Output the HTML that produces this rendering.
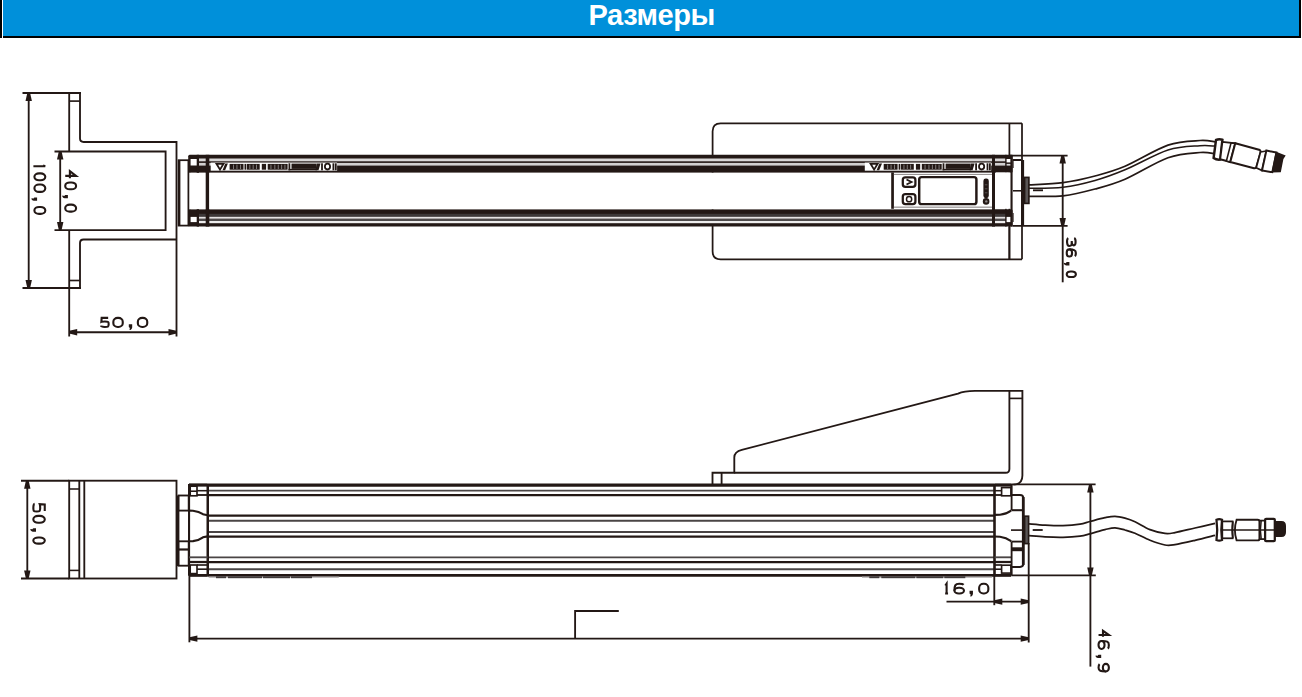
<!DOCTYPE html>
<html><head><meta charset="utf-8"><style>
html,body{margin:0;padding:0;background:#fff;width:1302px;height:697px;overflow:hidden;position:relative}
.hb{position:absolute;background:#000}
#hdr{position:absolute;left:3px;top:0;width:1296px;height:36px;background:#0090da}
#ttl{position:absolute;left:585.5px;top:-3px;white-space:nowrap;color:#fff;font-family:"Liberation Sans",sans-serif;font-weight:bold;font-size:29px;line-height:36px;letter-spacing:-0.4px}
svg{position:absolute;left:0;top:0}
</style></head><body>
<div class="hb" style="left:0;top:0;width:2px;height:38px"></div>
<div class="hb" style="left:3px;top:36px;width:1298px;height:2px"></div>
<div class="hb" style="left:1299px;top:0;width:2px;height:38px"></div>
<div id="hdr"><span id="ttl">Размеры</span></div>
<svg width="1302" height="697" viewBox="0 0 1302 697">
<path d="M1022,123.3 L720.6,123.3 Q712.6,123.3 712.6,131.3 L712.6,251.3 Q712.6,259.3 720.6,259.3 L1022,259.3" fill="#fff" stroke="#231815" stroke-width="1.75"/>
<line x1="1009.4" y1="123.3" x2="1009.4" y2="259.3" stroke="#231815" stroke-width="1.75"/>
<line x1="1022" y1="123.3" x2="1022" y2="259.3" stroke="#231815" stroke-width="1.75"/>
<line x1="22.5" y1="93" x2="81" y2="93" stroke="#231815" stroke-width="1.85"/>
<line x1="22.5" y1="288" x2="81" y2="288" stroke="#231815" stroke-width="1.85"/>
<line x1="69.2" y1="93" x2="69.2" y2="151.5" stroke="#231815" stroke-width="1.85"/>
<line x1="69.2" y1="230.1" x2="69.2" y2="336.5" stroke="#231815" stroke-width="1.85"/>
<path d="M80,93 L80,138.6 Q80,142 83.6,142 L176.5,142 L176.5,336.5" fill="none" stroke="#231815" stroke-width="1.85"/>
<path d="M80,288 L80,243 Q80,239.5 83.6,239.5 L176.5,239.5" fill="none" stroke="#231815" stroke-width="1.85"/>
<line x1="69.2" y1="101.1" x2="80" y2="101.1" stroke="#231815" stroke-width="1.65"/>
<line x1="69.2" y1="280.5" x2="80" y2="280.5" stroke="#231815" stroke-width="1.65"/>
<path d="M54.5,151.5 L165.6,151.5 L165.6,230.1 L54.5,230.1" fill="none" stroke="#231815" stroke-width="1.85"/>
<line x1="28.7" y1="93" x2="28.7" y2="288" stroke="#231815" stroke-width="1.85"/>
<polygon points="27.3,93 30.1,93 31.9,101 25.5,101" fill="#231815"/>
<polygon points="27.3,288 30.1,288 31.9,280 25.5,280" fill="#231815"/>
<line x1="60.2" y1="151.5" x2="60.2" y2="230.1" stroke="#231815" stroke-width="1.85"/>
<polygon points="58.8,151.5 61.6,151.5 63.4,159.5 57,159.5" fill="#231815"/>
<polygon points="58.8,230.1 61.6,230.1 63.4,222.1 57,222.1" fill="#231815"/>
<line x1="69.2" y1="332.2" x2="176.5" y2="332.2" stroke="#231815" stroke-width="1.85"/>
<polygon points="69.2,330.8 69.2,333.6 77.2,335.4 77.2,329" fill="#231815"/>
<polygon points="176.5,330.8 176.5,333.6 168.5,335.4 168.5,329" fill="#231815"/>
<rect x="178.6" y="160.2" width="9.8" height="65.4" fill="#fff" stroke="#231815" stroke-width="1.75"/>
<rect x="178.2" y="160" width="2.2" height="65.8" fill="#231815"/>
<rect x="188.2" y="154.8" width="824.4" height="18" fill="#231815" rx="1.5"/>
<rect x="188.2" y="209.2" width="824.4" height="17.4" fill="#231815" rx="1.5"/>
<rect x="199" y="158.5" width="807" height="2.8" fill="#d9d7d7"/>
<rect x="199" y="162.9" width="807" height="2.7" fill="#d2d0d0"/>
<rect x="199" y="213.8" width="807" height="3" fill="#3d3838"/>
<rect x="199" y="216.8" width="807" height="2" fill="#e6e4e4"/>
<rect x="199" y="218.8" width="807" height="2.2" fill="#4f4b4b"/>
<rect x="199" y="221" width="807" height="2.2" fill="#eeeded"/>
<rect x="190.6" y="172.8" width="15.1" height="36.4" fill="#fff"/>
<rect x="196.7" y="154.8" width="2.3" height="18" fill="#231815"/>
<rect x="196.7" y="209.2" width="2.3" height="17.4" fill="#231815"/>
<rect x="205.7" y="154.8" width="3.6" height="71.8" fill="#231815"/>
<rect x="190.6" y="159" width="6.1" height="6.5" fill="#fff"/>
<rect x="190.6" y="216.9" width="6.1" height="5.2" fill="#fff"/>
<rect x="992" y="154.8" width="3" height="71.8" fill="#231815"/>
<rect x="1005.2" y="154.8" width="1.4" height="71.8" fill="#231815"/>
<rect x="995.8" y="172.4" width="14.5" height="36.4" fill="#fff"/>
<rect x="1006.6" y="159" width="4" height="3.4" fill="#fff"/>
<rect x="1006.6" y="163.9" width="4" height="1.7" fill="#d8d6d6"/>
<rect x="1006.6" y="216.9" width="4" height="5.2" fill="#fff"/>
<rect x="1010.6" y="154.8" width="2" height="71.8" fill="#231815"/>
<rect x="1012.6" y="161" width="1" height="7" fill="#231815"/>
<rect x="1012.6" y="213" width="1" height="9" fill="#231815"/>
<rect x="209.3" y="172.8" width="782.7" height="36.4" fill="#fff"/>
<rect x="210.7" y="162.6" width="126.4" height="8.1" fill="#fff"/>
<polygon points="216.5,163.8 223.5,163.8 220,169.6" fill="#fff" stroke="#231815" stroke-width="1.8"/>
<path d="M225.3,163.4 H227.9 L225.1,170.2 H222.5 Z" fill="#231815"/>
<rect x="229.6" y="163.9" width="13.9" height="5.8" fill="#231815"/>
<rect x="244.5" y="163.9" width="1.7" height="5.8" fill="#231815"/>
<rect x="246.8" y="163.9" width="12.9" height="5.8" fill="#231815"/>
<rect x="261.8" y="163.9" width="4.3" height="5.8" fill="#231815"/>
<rect x="267.7" y="163.9" width="19.9" height="5.8" fill="#231815"/>
<rect x="233.1" y="164.6" width="0.9" height="4.4" fill="#8a8585"/>
<rect x="236.5" y="164.6" width="0.9" height="4.4" fill="#8a8585"/>
<rect x="240" y="164.6" width="0.9" height="4.4" fill="#8a8585"/>
<rect x="249.4" y="164.6" width="0.9" height="4.4" fill="#8a8585"/>
<rect x="252.7" y="164.6" width="0.9" height="4.4" fill="#8a8585"/>
<rect x="256.1" y="164.6" width="0.9" height="4.4" fill="#8a8585"/>
<rect x="270.5" y="164.6" width="0.9" height="4.4" fill="#8a8585"/>
<rect x="274.4" y="164.6" width="0.9" height="4.4" fill="#8a8585"/>
<rect x="277.8" y="164.6" width="0.9" height="4.4" fill="#8a8585"/>
<rect x="281.2" y="164.6" width="0.9" height="4.4" fill="#8a8585"/>
<rect x="284.5" y="164.6" width="0.9" height="4.4" fill="#8a8585"/>
<rect x="288.5" y="163.3" width="1.8" height="7" fill="#231815"/>
<rect x="288.5" y="168.9" width="28.4" height="1.4" fill="#231815"/>
<rect x="291.5" y="163.6" width="25" height="5.3" fill="#231815"/>
<path d="M316.7,163.5 H320.5 L318.5,170.2 H315.5 Z" fill="#231815"/>
<rect x="321.1" y="163.3" width="1.8" height="7" fill="#231815"/>
<ellipse cx="327.5" cy="166.6" rx="2.6" ry="2.9" fill="#fff" stroke="#231815" stroke-width="1.8"/>
<rect x="332.5" y="163.3" width="1.8" height="7" fill="#231815"/>
<rect x="334.9" y="163.3" width="1.8" height="7" fill="#231815"/>
<rect x="864.8" y="162.6" width="126.4" height="8.1" fill="#fff"/>
<polygon points="870.6,163.8 877.6,163.8 874.1,169.6" fill="#fff" stroke="#231815" stroke-width="1.8"/>
<path d="M879.4,163.4 H882 L879.2,170.2 H876.6 Z" fill="#231815"/>
<rect x="883.7" y="163.9" width="13.9" height="5.8" fill="#231815"/>
<rect x="898.6" y="163.9" width="1.7" height="5.8" fill="#231815"/>
<rect x="900.9" y="163.9" width="12.9" height="5.8" fill="#231815"/>
<rect x="915.9" y="163.9" width="4.3" height="5.8" fill="#231815"/>
<rect x="921.8" y="163.9" width="19.9" height="5.8" fill="#231815"/>
<rect x="887.2" y="164.6" width="0.9" height="4.4" fill="#8a8585"/>
<rect x="890.6" y="164.6" width="0.9" height="4.4" fill="#8a8585"/>
<rect x="894.1" y="164.6" width="0.9" height="4.4" fill="#8a8585"/>
<rect x="903.5" y="164.6" width="0.9" height="4.4" fill="#8a8585"/>
<rect x="906.8" y="164.6" width="0.9" height="4.4" fill="#8a8585"/>
<rect x="910.2" y="164.6" width="0.9" height="4.4" fill="#8a8585"/>
<rect x="924.6" y="164.6" width="0.9" height="4.4" fill="#8a8585"/>
<rect x="928.5" y="164.6" width="0.9" height="4.4" fill="#8a8585"/>
<rect x="931.9" y="164.6" width="0.9" height="4.4" fill="#8a8585"/>
<rect x="935.3" y="164.6" width="0.9" height="4.4" fill="#8a8585"/>
<rect x="938.6" y="164.6" width="0.9" height="4.4" fill="#8a8585"/>
<rect x="942.6" y="163.3" width="1.8" height="7" fill="#231815"/>
<rect x="942.6" y="168.9" width="28.4" height="1.4" fill="#231815"/>
<rect x="945.6" y="163.6" width="25" height="5.3" fill="#231815"/>
<path d="M970.8,163.5 H974.6 L972.6,170.2 H969.6 Z" fill="#231815"/>
<rect x="975.2" y="163.3" width="1.8" height="7" fill="#231815"/>
<ellipse cx="981.6" cy="166.6" rx="2.6" ry="2.9" fill="#fff" stroke="#231815" stroke-width="1.8"/>
<rect x="986.6" y="163.3" width="1.8" height="7" fill="#231815"/>
<rect x="989" y="163.3" width="1.8" height="7" fill="#231815"/>
<rect x="891.2" y="172.4" width="2.7" height="36.4" fill="#231815"/>
<rect x="902.8" y="177.4" width="12.6" height="9.4" fill="#fff" stroke="#231815" stroke-width="2.25" rx="2.6"/>
<rect x="902.8" y="194.2" width="12.6" height="10" fill="#fff" stroke="#231815" stroke-width="2.25" rx="2.6"/>
<path d="M906.5,179.5 L911.5,182 L906.5,184.5" fill="none" stroke="#231815" stroke-width="1.85"/>
<circle cx="909.1" cy="199.2" r="2.6" fill="none" stroke="#231815" stroke-width="1.5"/>
<rect x="919.2" y="177.1" width="57.2" height="27" fill="#fff" stroke="#231815" stroke-width="2.45" rx="2.4"/>
<rect x="893.9" y="173.9" width="98.1" height="1" fill="#8c8787"/>
<rect x="893.9" y="206.6" width="98.1" height="1.1" fill="#8c8787"/>
<rect x="983.4" y="178.6" width="5.4" height="19.6" fill="#231815" rx="2.4"/>
<rect x="984.8" y="184.5" width="2.6" height="0.7" fill="#6d6868"/>
<rect x="984.8" y="188.5" width="2.6" height="0.7" fill="#6d6868"/>
<rect x="984.8" y="192.5" width="2.6" height="0.7" fill="#6d6868"/>
<circle cx="986.1" cy="201.4" r="3.3" fill="#231815"/>
<circle cx="986.3" cy="201.4" r="1.2" fill="#8a8585"/>
<rect x="1012.6" y="159" width="8.6" height="2" fill="#231815"/>
<rect x="1021" y="160" width="3.1" height="65.4" fill="#231815"/>
<line x1="1012.6" y1="225.9" x2="1067.6" y2="225.9" stroke="#231815" stroke-width="1.85"/>
<line x1="1013" y1="190.8" x2="1021" y2="190.8" stroke="#231815" stroke-width="1.55"/>
<rect x="1024.6" y="177.4" width="4.3" height="26" fill="#5a5555" stroke="#231815" stroke-width="1.65"/>
<line x1="1009.4" y1="226.6" x2="1009.4" y2="259.3" stroke="#231815" stroke-width="1.75"/>
<line x1="1009.4" y1="155.6" x2="1067.6" y2="155.6" stroke="#231815" stroke-width="1.85"/>
<line x1="1062.7" y1="155.6" x2="1062.7" y2="282.3" stroke="#231815" stroke-width="1.85"/>
<polygon points="1061.3,155.6 1064.1,155.6 1065.9,163.6 1059.5,163.6" fill="#231815"/>
<polygon points="1061.3,225.9 1064.1,225.9 1065.9,217.9 1059.5,217.9" fill="#231815"/>
<path d="M1029,184.9 C1034.67,184.53 1052,184.18 1063,182.7 C1074,181.22 1084.67,178.73 1095,176 C1105.33,173.27 1112.83,171.43 1125,166.3 C1137.17,161.17 1155.5,149.5 1168,145.2 C1180.5,140.9 1192.17,141.07 1200,140.5 C1207.83,139.93 1212.5,141.58 1215,141.8" fill="none" stroke="#231815" stroke-width="1.75"/>
<path d="M1029,188.3 C1034.67,188.12 1052,188.5 1063,187.2 C1074,185.9 1084.67,183.4 1095,180.5 C1105.33,177.6 1112.83,174.88 1125,169.8 C1137.17,164.72 1155.5,154.02 1168,150 C1180.5,145.98 1192.17,146.35 1200,145.7 C1207.83,145.05 1212.5,146.03 1215,146.1" fill="none" stroke="#231815" stroke-width="1.55"/>
<path d="M1029,196.3 C1034.67,196.22 1052,197.02 1063,195.8 C1074,194.58 1084.67,191.77 1095,189 C1105.33,186.23 1112.83,184.42 1125,179.2 C1137.17,173.98 1155.5,162.15 1168,157.7 C1180.5,153.25 1192.17,153.15 1200,152.5 C1207.83,151.85 1212.5,153.58 1215,153.8" fill="none" stroke="#231815" stroke-width="1.75"/>
<line x1="1033" y1="190.3" x2="1043" y2="190.3" stroke="#231815" stroke-width="1.85"/>
<path d="M1216,140 Q1219,138.8 1222.4,139.8 L1220.2,159.6 Q1216.5,160 1213.6,158 Z" fill="#fff" stroke="#231815" stroke-width="2.45"/>
<path d="M1222.4,141.8 L1235.3,143.3 L1230.3,162 L1220.2,159.2 Z" fill="#fff" stroke="#231815" stroke-width="1.85"/>
<path d="M1231,143 L1235,143.5 L1230,162 L1226.4,161 Z" fill="#fff" stroke="#231815" stroke-width="1.55"/>
<path d="M1235.3,143.3 L1259.8,150 Q1261,151 1260.5,152.5 L1256.2,167.5 Q1255.2,168.6 1254,168.2 L1230.3,162 Z" fill="#fff" stroke="#231815" stroke-width="1.95"/>
<path d="M1260.5,152 L1266.4,151 L1262,170.5 L1256.2,167.8 Z" fill="#fff" stroke="#231815" stroke-width="1.75"/>
<path d="M1266.4,150.5 L1276.5,152.6 L1272.3,172.2 L1262,170.5 Z" fill="#fff" stroke="#231815" stroke-width="1.95"/>
<path d="M1275.6,151.6 L1285.7,155.6 L1283.4,159 L1280.8,172.2 L1271.6,172.6 Z" fill="#231815"/>
<path d="M712.5,484.6 L712.5,472.7 L734.3,472.7 L734.3,457.5 Q734.3,451.8 741.8,449.9 L958,393.6 Q964,390.9 975,390.9 L1022.4,390.9 L1022.4,475.6 Q1022.4,484.6 1013.4,484.6" fill="#fff" stroke="#231815" stroke-width="1.85"/>
<path d="M734.3,472.7 L1005.6,472.7 Q1009.4,472.7 1009.4,468.9 L1009.4,390.9" fill="none" stroke="#231815" stroke-width="1.85"/>
<line x1="721.6" y1="472.7" x2="721.6" y2="484.6" stroke="#231815" stroke-width="1.85"/>
<line x1="1009.4" y1="398.4" x2="1022.4" y2="398.4" stroke="#231815" stroke-width="1.65"/>
<rect x="69.2" y="480.7" width="107.3" height="97.8" fill="#fff" stroke="#231815" stroke-width="1.85"/>
<line x1="79.3" y1="480.7" x2="79.3" y2="578.5" stroke="#231815" stroke-width="1.85"/>
<line x1="84.3" y1="480.7" x2="84.3" y2="578.5" stroke="#231815" stroke-width="1.85"/>
<line x1="69.2" y1="489" x2="79.3" y2="489" stroke="#231815" stroke-width="1.55"/>
<line x1="69.2" y1="570.4" x2="79.3" y2="570.4" stroke="#231815" stroke-width="1.55"/>
<line x1="21" y1="480.7" x2="69.2" y2="480.7" stroke="#231815" stroke-width="1.85"/>
<line x1="21" y1="578.5" x2="69.2" y2="578.5" stroke="#231815" stroke-width="1.85"/>
<line x1="27.3" y1="480.7" x2="27.3" y2="578.5" stroke="#231815" stroke-width="1.85"/>
<polygon points="25.9,480.7 28.7,480.7 30.5,488.7 24.1,488.7" fill="#231815"/>
<polygon points="25.9,578.5 28.7,578.5 30.5,570.5 24.1,570.5" fill="#231815"/>
<rect x="177" y="495.5" width="2.4" height="70.5" fill="#231815"/>
<rect x="178.6" y="495.5" width="10.1" height="15.1" fill="#fff" stroke="#231815" stroke-width="1.85"/>
<rect x="178.6" y="541.3" width="10.1" height="24.4" fill="#fff" stroke="#231815" stroke-width="1.85"/>
<rect x="178.2" y="548.4" width="10.6" height="2.2" fill="#231815"/>
<line x1="207.7" y1="485" x2="994.5" y2="485" stroke="#231815" stroke-width="3.25"/>
<line x1="207.7" y1="490.7" x2="994.5" y2="490.7" stroke="#4a4545" stroke-width="1.75"/>
<line x1="207.7" y1="495" x2="994.5" y2="495" stroke="#231815" stroke-width="2.25"/>
<line x1="207.7" y1="515.7" x2="994.5" y2="515.7" stroke="#231815" stroke-width="2.25"/>
<line x1="207.7" y1="520.7" x2="994.5" y2="520.7" stroke="#4a4545" stroke-width="1.85"/>
<line x1="207.7" y1="532" x2="994.5" y2="532" stroke="#4a4545" stroke-width="1.95"/>
<line x1="207.7" y1="536.7" x2="994.5" y2="536.7" stroke="#231815" stroke-width="2.25"/>
<line x1="207.7" y1="557.3" x2="994.5" y2="557.3" stroke="#4a4545" stroke-width="1.85"/>
<line x1="207.7" y1="562" x2="994.5" y2="562" stroke="#231815" stroke-width="2.25"/>
<line x1="207.7" y1="569.2" x2="994.5" y2="569.2" stroke="#4a4545" stroke-width="2.05"/>
<line x1="207.7" y1="575.4" x2="994.5" y2="575.4" stroke="#231815" stroke-width="2.85"/>
<rect x="188" y="484" width="2.1" height="91.8" fill="#231815"/>
<rect x="206.5" y="484" width="2.5" height="91.8" fill="#231815"/>
<rect x="993.2" y="484" width="2.6" height="91.8" fill="#231815"/>
<rect x="1010.4" y="484" width="2.2" height="12" fill="#231815"/>
<rect x="1010.4" y="564.5" width="2.2" height="11.3" fill="#231815"/>
<line x1="189" y1="557.3" x2="207.7" y2="557.3" stroke="#4a4545" stroke-width="1.85"/>
<line x1="189" y1="562" x2="207.7" y2="562" stroke="#231815" stroke-width="2.25"/>
<line x1="189" y1="485" x2="207.7" y2="485" stroke="#231815" stroke-width="3.25"/>
<line x1="189" y1="575.4" x2="207.7" y2="575.4" stroke="#231815" stroke-width="2.85"/>
<rect x="190.2" y="486.2" width="6.8" height="9.6" fill="#fff" stroke="#231815" stroke-width="1.65"/>
<line x1="190.2" y1="491.2" x2="197" y2="491.2" stroke="#231815" stroke-width="1.55"/>
<line x1="197" y1="490.7" x2="207" y2="490.7" stroke="#231815" stroke-width="1.55"/>
<line x1="197" y1="495" x2="207" y2="495" stroke="#231815" stroke-width="1.85"/>
<rect x="190.2" y="565" width="6.8" height="8.6" fill="#fff" stroke="#231815" stroke-width="1.65"/>
<line x1="197" y1="569.2" x2="207" y2="569.2" stroke="#231815" stroke-width="1.65"/>
<line x1="197" y1="565" x2="207" y2="565" stroke="#231815" stroke-width="1.65"/>
<path d="M189,510.6 L193,510.8 Q199,511.6 203,514.2 L207.7,515.2" fill="none" stroke="#231815" stroke-width="2.15"/>
<path d="M189,541.3 L193,541.1 Q199,540.3 203,537.3 L207.7,536.4" fill="none" stroke="#231815" stroke-width="2.15"/>
<line x1="994.5" y1="557.3" x2="1011.6" y2="557.3" stroke="#4a4545" stroke-width="1.85"/>
<line x1="994.5" y1="562" x2="1011.6" y2="562" stroke="#231815" stroke-width="2.25"/>
<line x1="994.5" y1="485" x2="1011.3" y2="485" stroke="#231815" stroke-width="3.25"/>
<line x1="994.5" y1="575.4" x2="1011.3" y2="575.4" stroke="#231815" stroke-width="2.85"/>
<rect x="1001.6" y="487.6" width="9.3" height="8.2" fill="#fff" stroke="#231815" stroke-width="1.65"/>
<rect x="1001.6" y="565.2" width="9.3" height="7.9" fill="#fff" stroke="#231815" stroke-width="1.65"/>
<line x1="994.5" y1="490.7" x2="1001.6" y2="490.7" stroke="#231815" stroke-width="1.55"/>
<line x1="994.5" y1="495" x2="1001.6" y2="495" stroke="#231815" stroke-width="1.85"/>
<line x1="994.5" y1="569.2" x2="1001.6" y2="569.2" stroke="#231815" stroke-width="1.55"/>
<line x1="994.5" y1="565" x2="1001.6" y2="565" stroke="#231815" stroke-width="1.65"/>
<path d="M994.5,514.9 L1000,514.7 Q1006,514.2 1011.6,510.3" fill="none" stroke="#231815" stroke-width="2.15"/>
<path d="M994.5,536.5 L1000,536.7 Q1006,537.4 1011.6,541.4" fill="none" stroke="#231815" stroke-width="2.15"/>
<path d="M1011.6,495 L1020,495 Q1023.4,495 1023.4,498.4 L1023.4,563.6 Q1023.4,567 1020,567 L1011.6,567" fill="#fff" stroke="#231815" stroke-width="1.85"/>
<rect x="1021.9" y="497" width="2.7" height="68" fill="#231815"/>
<line x1="1011.6" y1="495" x2="1011.6" y2="510.2" stroke="#231815" stroke-width="1.85"/>
<line x1="1011.6" y1="510.2" x2="1023" y2="510.2" stroke="#231815" stroke-width="2.05"/>
<line x1="1011.6" y1="541.6" x2="1011.6" y2="567" stroke="#231815" stroke-width="1.85"/>
<line x1="1011.6" y1="541.6" x2="1023" y2="541.6" stroke="#231815" stroke-width="1.85"/>
<rect x="1011.6" y="547.3" width="11.4" height="3.9" fill="#231815"/>
<rect x="1024.6" y="516.2" width="4" height="27.4" fill="#5a5555" stroke="#231815" stroke-width="1.65"/>
<line x1="1011" y1="530.1" x2="1024.6" y2="530.1" stroke="#231815" stroke-width="1.65"/>
<rect x="208.7" y="576.4" width="130.1" height="1.2" fill="#9a9696"/>
<rect x="216" y="576.3" width="10" height="1.9" fill="#3f3a3a"/>
<rect x="228" y="576.3" width="34" height="1.9" fill="#3f3a3a"/>
<rect x="263" y="576.3" width="27" height="1.9" fill="#3f3a3a"/>
<rect x="291" y="576.3" width="21" height="1.9" fill="#3f3a3a"/>
<rect x="862" y="576.4" width="130.1" height="1.2" fill="#9a9696"/>
<rect x="869.3" y="576.3" width="10" height="1.9" fill="#3f3a3a"/>
<rect x="881.3" y="576.3" width="34" height="1.9" fill="#3f3a3a"/>
<rect x="916.3" y="576.3" width="27" height="1.9" fill="#3f3a3a"/>
<rect x="944.3" y="576.3" width="21" height="1.9" fill="#3f3a3a"/>
<path d="M1029,523.8 C1031.67,524.02 1039.33,524.8 1045,525.1 C1050.67,525.4 1057.17,525.75 1063,525.6 C1068.83,525.45 1075.5,524.88 1080,524.2 C1084.5,523.52 1085.83,522.58 1090,521.5 C1094.17,520.42 1100.83,518.57 1105,517.7 C1109.17,516.83 1111.67,516.22 1115,516.3 C1118.33,516.38 1121.67,517.28 1125,518.2 C1128.33,519.12 1130.83,519.9 1135,521.8 C1139.17,523.7 1145,527.67 1150,529.6 C1155,531.53 1160.83,532.9 1165,533.4 C1169.17,533.9 1170,533.5 1175,532.6 C1180,531.7 1188.33,529.53 1195,528 C1201.67,526.47 1211.67,524.17 1215,523.4" fill="none" stroke="#231815" stroke-width="1.75"/>
<path d="M1029,535.7 C1031.67,535.9 1039.33,536.63 1045,536.9 C1050.67,537.17 1057.17,537.43 1063,537.3 C1068.83,537.17 1075.5,536.68 1080,536.1 C1084.5,535.52 1085.83,534.88 1090,533.8 C1094.17,532.72 1100.83,530.6 1105,529.6 C1109.17,528.6 1111.67,527.73 1115,527.8 C1118.33,527.87 1121.67,529.1 1125,530 C1128.33,530.9 1130.83,531.48 1135,533.2 C1139.17,534.92 1145,538.33 1150,540.3 C1155,542.27 1160.83,544.28 1165,545 C1169.17,545.72 1170,545.38 1175,544.6 C1180,543.82 1188.33,541.85 1195,540.3 C1201.67,538.75 1211.67,536.13 1215,535.3" fill="none" stroke="#231815" stroke-width="1.75"/>
<line x1="1032.7" y1="530" x2="1042.7" y2="530" stroke="#231815" stroke-width="1.85"/>
<path d="M1216.5,519.8 Q1219.2,518.6 1222,519.8 Q1220.6,530 1222,540 Q1219.2,541.2 1216.5,540 Q1217.9,530 1216.5,519.8 Z" fill="#fff" stroke="#231815" stroke-width="2.25"/>
<rect x="1222.3" y="521.4" width="10.3" height="16.9" fill="#fff" stroke="#231815" stroke-width="1.75"/>
<path d="M1236.6,519.7 L1257.6,519.7 Q1259.6,519.7 1259.6,521.7 L1259.6,538.4 Q1259.6,540.4 1257.6,540.4 L1236.6,540.4 Q1233.2,530 1236.6,519.7 Z" fill="#fff" stroke="#231815" stroke-width="1.85"/>
<path d="M1233,521.4 Q1231.2,530 1233,538.3" fill="none" stroke="#231815" stroke-width="1.55"/>
<rect x="1259.6" y="520.6" width="5.5" height="18.5" fill="#fff" stroke="#231815" stroke-width="1.75"/>
<path d="M1261.2,520.6 Q1259.6,530 1261.2,539" fill="none" stroke="#231815" stroke-width="1.45"/>
<rect x="1265.1" y="518.8" width="9.7" height="22.4" fill="#fff" stroke="#231815" stroke-width="2.25" rx="1"/>
<path d="M1274.6,521 L1281.5,521 Q1286,521 1286,526 L1286,532 Q1286,537 1281.5,537 L1274.6,537 Z" fill="#231815"/>
<line x1="1222" y1="530" x2="1274.8" y2="530" stroke="#231815" stroke-width="1.65"/>
<line x1="1011.3" y1="484.4" x2="1095.6" y2="484.4" stroke="#231815" stroke-width="1.85"/>
<line x1="1012" y1="575.4" x2="1095.8" y2="575.4" stroke="#231815" stroke-width="1.85"/>
<line x1="1090.4" y1="484.4" x2="1090.4" y2="666.6" stroke="#231815" stroke-width="1.85"/>
<polygon points="1089,484.4 1091.8,484.4 1093.6,492.4 1087.2,492.4" fill="#231815"/>
<polygon points="1089,575.4 1091.8,575.4 1093.6,567.4 1087.2,567.4" fill="#231815"/>
<line x1="994.3" y1="575.4" x2="994.3" y2="605.2" stroke="#231815" stroke-width="1.85"/>
<line x1="1028.7" y1="543" x2="1028.7" y2="642.5" stroke="#231815" stroke-width="1.85"/>
<line x1="946.5" y1="601.6" x2="1028.7" y2="601.6" stroke="#231815" stroke-width="1.85"/>
<polygon points="994.3,600.2 994.3,603 1002.3,604.8 1002.3,598.4" fill="#231815"/>
<polygon points="1028.7,600.2 1028.7,603 1020.7,604.8 1020.7,598.4" fill="#231815"/>
<line x1="189.4" y1="575.4" x2="189.4" y2="642.3" stroke="#231815" stroke-width="1.85"/>
<line x1="189.4" y1="638.6" x2="1028.7" y2="638.6" stroke="#231815" stroke-width="1.85"/>
<polygon points="189.4,637.2 189.4,640 197.4,641.8 197.4,635.4" fill="#231815"/>
<polygon points="1028.7,637.2 1028.7,640 1020.7,641.8 1020.7,635.4" fill="#231815"/>
<path d="M618.8,611 L575.1,611 L575.1,638.6" fill="none" stroke="#231815" stroke-width="1.85"/>
<g transform="translate(0 316.8)"><path d="M108.15,1.05 H101.65 L101.35,5.09 C102.35,4.69 103.8,4.69 104.8,4.69 C108.65,4.69 108.65,5.19 108.65,7.42 C108.65,10.15 107.95,10.15 104.8,10.15 C102.15,10.15 101.15,9.85 100.95,8.85" fill="none" stroke="#231815" stroke-width="2.1"/><rect x="113.35" y="1.05" width="9.4" height="9.1" rx="4.32" ry="3.82" fill="none" stroke="#231815" stroke-width="2.1"/><path d="M128.8,7.5 H132.2 V10.8 Q131.9,12.6 130.5,13.1 H129.5 L129.9,10.9 Q128.8,10.8 128.8,10 Z" fill="#231815"/><rect x="137.85" y="1.05" width="9.4" height="9.1" rx="4.32" ry="3.82" fill="none" stroke="#231815" stroke-width="2.1"/></g>
<g transform="translate(0 582.7)"><path d="M946.6,10.75 V1.05 L945.35,2.99 M945.15,10.75 H948.05" fill="none" stroke="#231815" stroke-width="2.1"/><path d="M963.65,2.02 C962.75,1.05 960.7,1.05 959.2,1.05 C955.05,1.05 954.45,2.99 954.45,7.94 " fill="none" stroke="#231815" stroke-width="2.1"/><rect x="954.45" y="5.12" width="9.5" height="5.63" rx="4.28" ry="2.7" fill="none" stroke="#231815" stroke-width="2.1"/><path d="M969.55,8.1 H972.95 V11.4 Q972.65,13.2 971.25,13.7 H970.25 L970.65,11.5 Q969.55,11.4 969.55,10.6 Z" fill="#231815"/><rect x="979.15" y="1.05" width="9.2" height="9.7" rx="4.23" ry="4.07" fill="none" stroke="#231815" stroke-width="2.1"/></g>
<g transform="translate(46.3 0) rotate(90)"><path d="M166.3,11.85 V1.05 L165.55,3.21 M165.35,11.85 H167.25" fill="none" stroke="#231815" stroke-width="2.1"/><rect x="173.35" y="1.05" width="6.9" height="10.8" rx="3.17" ry="4.54" fill="none" stroke="#231815" stroke-width="2.1"/><rect x="184.55" y="1.05" width="7.3" height="10.8" rx="3.36" ry="4.54" fill="none" stroke="#231815" stroke-width="2.1"/><path d="M197.45,9.2 H200.85 V12.5 Q200.55,14.3 199.15,14.8 H198.15 L198.55,12.6 Q197.45,12.5 197.45,11.7 Z" fill="#231815"/><rect x="206.95" y="1.05" width="6.9" height="10.8" rx="3.17" ry="4.54" fill="none" stroke="#231815" stroke-width="2.1"/></g>
<g transform="translate(77.1 0) rotate(90)"><path d="M175.91,11.85 V1.05 L171.15,7.21 H178.15" fill="none" stroke="#231815" stroke-width="2.1"/><rect x="182.55" y="1.05" width="6.7" height="10.8" rx="3.08" ry="4.54" fill="none" stroke="#231815" stroke-width="2.1"/><path d="M194.9,9.2 H198.3 V12.5 Q198,14.3 196.6,14.8 H195.6 L196,12.6 Q194.9,12.5 194.9,11.7 Z" fill="#231815"/><rect x="204.65" y="1.05" width="7" height="10.8" rx="3.22" ry="4.54" fill="none" stroke="#231815" stroke-width="2.1"/></g>
<g transform="translate(45.8 0) rotate(90)"><path d="M511.05,1.05 H504.55 L504.25,6.01 C505.25,5.61 506.7,5.61 507.7,5.61 C511.55,5.61 511.55,6.11 511.55,9.03 C511.55,12.45 510.85,12.45 507.7,12.45 C505.05,12.45 504.05,12.15 503.85,11.15" fill="none" stroke="#231815" stroke-width="2.1"/><rect x="515.85" y="1.05" width="6.9" height="11.4" rx="3.17" ry="4.79" fill="none" stroke="#231815" stroke-width="2.1"/><path d="M528.25,9.8 H531.65 V13.1 Q531.35,14.9 529.95,15.4 H528.95 L529.35,13.2 Q528.25,13.1 528.25,12.3 Z" fill="#231815"/><rect x="537.55" y="1.05" width="6.1" height="11.4" rx="2.81" ry="4.79" fill="none" stroke="#231815" stroke-width="2.1"/></g>
<g transform="translate(1076.9 0) rotate(90)"><path d="M238.05,2.65 C238.85,0.85 245.35,0.75 245.35,3.05 C245.35,5.14 241.85,5.14 241.05,5.14 M241.05,5.14 C245.95,5.14 245.95,5.54 245.95,7.65 C245.95,10.35 239.05,10.45 238.05,8.65" fill="none" stroke="#231815" stroke-width="2.1"/><path d="M256.25,1.96 C255.35,1.05 254.45,1.05 252.95,1.05 C249.95,1.05 249.35,2.87 249.35,7.51 " fill="none" stroke="#231815" stroke-width="2.1"/><rect x="249.35" y="4.87" width="7.2" height="5.28" rx="3.24" ry="2.53" fill="none" stroke="#231815" stroke-width="2.1"/><path d="M262.05,7.5 H265.45 V10.8 Q265.15,12.6 263.75,13.1 H262.75 L263.15,10.9 Q262.05,10.8 262.05,10 Z" fill="#231815"/><rect x="271.45" y="1.05" width="5.6" height="9.1" rx="2.58" ry="3.82" fill="none" stroke="#231815" stroke-width="2.1"/></g>
<g transform="translate(1109.9 0) rotate(90)"><path d="M634.93,11.35 V1.05 L630.85,6.92 H636.85" fill="none" stroke="#231815" stroke-width="2.1"/><path d="M648.65,2.08 C647.75,1.05 646.45,1.05 644.95,1.05 C641.55,1.05 640.95,3.11 640.95,8.36 " fill="none" stroke="#231815" stroke-width="2.1"/><rect x="640.95" y="5.38" width="8" height="5.97" rx="3.6" ry="2.87" fill="none" stroke="#231815" stroke-width="2.1"/><path d="M654.7,8.7 H658.1 V12 Q657.8,13.8 656.4,14.3 H655.4 L655.8,12.1 Q654.7,12 654.7,11.2 Z" fill="#231815"/><path d="M671.15,2.08 C670.25,1.05 669.15,1.05 667.65,1.05 C664.45,1.05 663.85,3.11 663.85,8.36 " fill="none" stroke="#231815" stroke-width="2.1" transform="rotate(180 667.65 6.2)"/><rect x="663.85" y="5.38" width="7.6" height="5.97" rx="3.42" ry="2.87" fill="none" stroke="#231815" stroke-width="2.1" transform="rotate(180 667.65 6.2)"/></g>
</svg>
</body></html>
